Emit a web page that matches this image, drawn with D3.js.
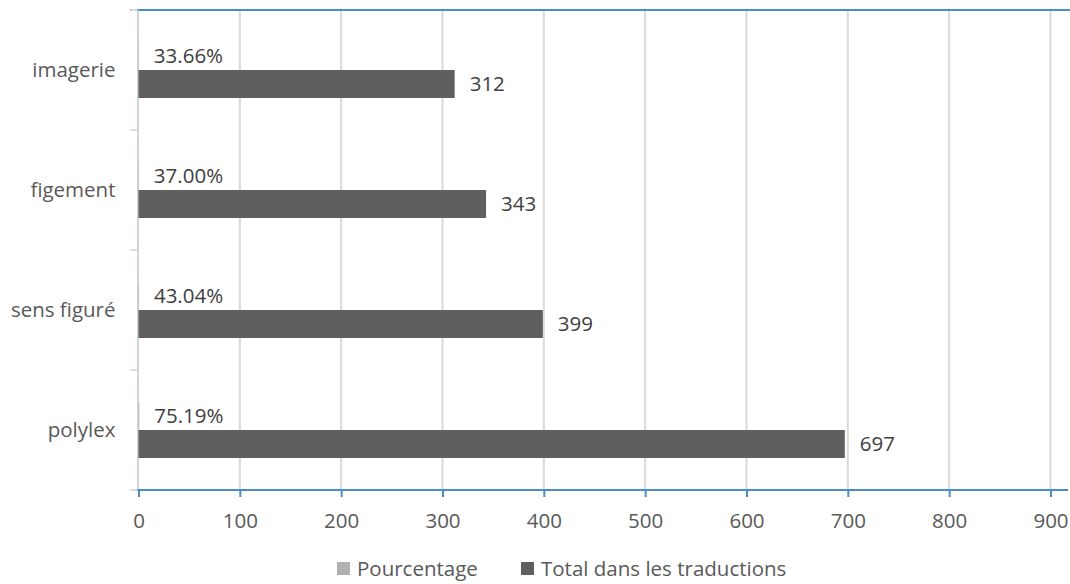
<!DOCTYPE html>
<html><head><meta charset="utf-8">
<script src="https://cdn.jsdelivr.net/npm/d3@7"></script>
<style>
html,body{margin:0;padding:0;background:#fff;}
svg{display:block;font-family:"Open Sans",sans-serif;}
</style></head>
<body>
<svg id="chart" width="1070" height="584"></svg>
<script>
const categories = ["imagerie", "figement", "sens figuré", "polylex"];
const seriesNames = ["Pourcentage", "Total dans les traductions"];
const pourcentage = [0.3366, 0.3700, 0.4304, 0.7519];
const total = [312, 343, 399, 697];
const xTicks = [0, 100, 200, 300, 400, 500, 600, 700, 800, 900];
const colors = ["#b0b0b0", "#5f5f5f"];

(function () {
const svg = d3.select("#chart");
const mLeft = 138.5, mRight = 1050.5, mTop = 10, mBottom = 490;
const textColor = "#595959";
const fs = 20.5;

const x = d3.scaleLinear().domain([0, 900]).range([mLeft, mRight]);
const y = d3.scaleBand().domain(categories).range([mTop, mBottom]);
const yInner = d3.scaleBand().domain(seriesNames).range([32, 88]);

// gridlines
svg.append("g").selectAll("line").data(xTicks.slice(1)).join("line")
  .attr("x1", d => x(d)).attr("x2", d => x(d))
  .attr("y1", mTop).attr("y2", mBottom)
  .attr("stroke", "#d9d9d9").attr("stroke-width", 2);

// top line
svg.append("line").attr("x1", 130).attr("x2", 1070).attr("y1", mTop).attr("y2", mTop)
  .attr("stroke", "#4a8fc4").attr("stroke-width", 2);

// left axis
const yAxis = d3.axisLeft(y).tickSize(0).tickPadding(22);
const gy = svg.append("g").attr("transform", `translate(${mLeft - 1},0)`).call(yAxis);
gy.select(".domain").attr("stroke", "#cdd5dd").attr("stroke-width", 2);
gy.selectAll("text").attr("font-size", fs).attr("fill", textColor).attr("font-family", "Open Sans");
// category boundary ticks
const bounds = categories.map(c => y(c)).concat([mBottom]);
svg.append("g").selectAll("line").data(bounds).join("line")
  .attr("x1", mLeft - 8).attr("x2", mLeft - 1)
  .attr("y1", d => d).attr("y2", d => d)
  .attr("stroke", "#d9d9d9").attr("stroke-width", 2);

const data = categories.map((c, i) => ({cat: c, vals: [pourcentage[i], total[i]]}));

// bars
const groups = svg.append("g").selectAll("g").data(data).join("g")
  .attr("transform", d => `translate(0,${y(d.cat)})`);
groups.selectAll("rect").data(d => d.vals.map((v, j) => ({v, s: seriesNames[j], j}))).join("rect")
  .attr("x", x(0)).attr("y", d => yInner(d.s))
  .attr("width", d => x(d.v) - x(0)).attr("height", yInner.bandwidth())
  .attr("fill", d => colors[d.j]);
groups.selectAll("text").data(d => d.vals.map((v, j) => ({v, s: seriesNames[j], j}))).join("text")
  .attr("x", d => x(d.v) + 15)
  .attr("y", d => yInner(d.s) + yInner.bandwidth() / 2)
  .attr("dy", "0.35em")
  .attr("font-size", fs).attr("fill", "#404040")
  .text(d => d.j === 0 ? (d.v * 100).toFixed(2) + "%" : d.v);

// bottom axis
const xAxis = d3.axisBottom(x).tickValues(xTicks).tickSize(7).tickPadding(16).tickFormat(d3.format("d"));
const gx = svg.append("g").attr("transform", `translate(0,${mBottom})`).call(xAxis);
gx.select(".domain").remove();
gx.selectAll(".tick line").attr("stroke", "#4a8fc4").attr("stroke-width", 2);
gx.selectAll("text").attr("font-size", fs).attr("fill", textColor).attr("font-family", "Open Sans");
svg.append("line").attr("x1", mLeft - 1).attr("x2", 1068).attr("y1", mBottom).attr("y2", mBottom)
  .attr("stroke", "#4a8fc4").attr("stroke-width", 2);

// legend
const legendX = [337, 521];
const lg = svg.append("g").selectAll("g").data(seriesNames).join("g")
  .attr("transform", (d, i) => `translate(${legendX[i]},562)`);
lg.append("rect").attr("width", 13).attr("height", 13).attr("fill", (d, i) => colors[i]);
lg.append("text").attr("x", 20).attr("y", 7).attr("dy", "0.35em")
  .attr("font-size", fs).attr("fill", textColor).text(d => d);
})();
</script>
</body></html>
